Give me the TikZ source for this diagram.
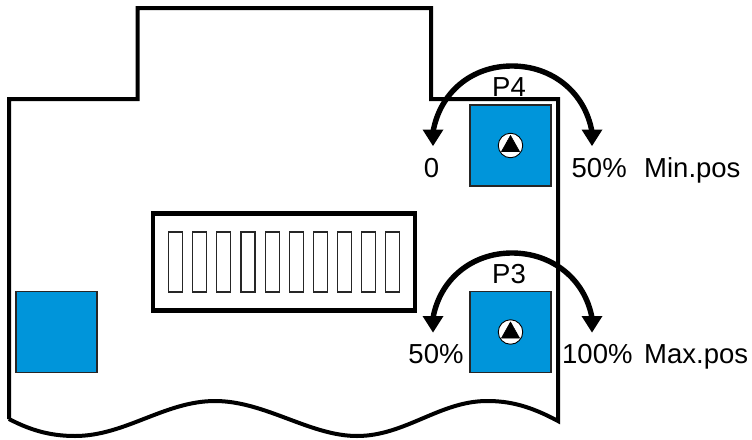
\documentclass[tikz,border=0pt]{standalone}
\usepackage{fontspec}
\setmainfont{Liberation Sans}
\definecolor{potblue}{HTML}{0095DA}
\tikzset{
  outline/.style={line width=4pt,line join=miter},
  potsquare/.style={draw=black!85,line width=1.3pt,fill=potblue,minimum width=81pt,minimum height=81pt,inner sep=0pt,outer sep=0pt},
  slotbox/.style={draw=black!85,line width=1.1pt,fill=white,minimum width=14pt,minimum height=60pt,inner sep=0pt},
  dipbox/.style={draw=black,line width=4.4pt,fill=white,minimum width=262pt,minimum height=97pt,inner sep=0pt},
  label/.style={font=\fontsize{27.5}{27.5}\selectfont,inner sep=0pt,anchor=base},
  labelw/.style={label,anchor=base west},
  swing/.style={line width=5.4pt},
  knob/.style={circle,draw=black,line width=0.9pt,fill=white,minimum size=24.5pt,inner sep=0pt},
  pointer/.style={fill=black,draw=black,line width=0.6pt,line join=round}
}
\begin{document}
\begin{tikzpicture}[x=1pt,y=-1pt]
\useasboundingbox (0,0) rectangle (752,439);
\draw[outline] (9,419) -- (9,99) -- (137.5,99) -- (137.5,8) -- (431,8) -- (431,99) -- (558,99) -- (558,421)
  .. controls (530,406) and (510,401) .. (487,401)
  .. controls (440,401) and (405,436) .. (357,436)
  .. controls (310,436) and (265,401) .. (215,401)
  .. controls (165,401) and (125,436) .. (75,436)
  .. controls (50,436) and (30,430) .. (9,419);

\node[dipbox] (dip) at (284,262) {};
\foreach \i in {0,...,9}
  \node[slotbox] (slot\i) at ({175.5+24.15*\i},262) {};

\node[potsquare] (left) at (56.5,332) {};
\node[potsquare] (pfour) at (510.5,145.5) {};
\node[potsquare] (pthree) at (510.5,332) {};

% P4
\node[knob] (kfour) at (pfour.center) {};
\draw[pointer] (510.5,135.5) -- (519.5,151.5) -- (501.5,151.5) -- cycle;
\coordinate (afour) at (433,146);
\coordinate (bfour) at (592,146);
\draw[swing] (433,132) .. controls (440,92) and (472,66) .. (512,66) .. controls (552,66) and (585,92) .. (592,132);
\fill (afour) -- (422.5,129.5) -- (443.5,129.5) -- cycle;
\fill (bfour) -- (581.5,129.5) -- (602.5,129.5) -- cycle;

% P3
\node[knob] (kthree) at (pthree.center) {};
\draw[pointer] (510.5,322) -- (519.5,338) -- (501.5,338) -- cycle;
\coordinate (athree) at (433,332.5);
\coordinate (bthree) at (592,332.5);
\draw[swing] (433,318) .. controls (440,279) and (472,253) .. (512,253) .. controls (552,253) and (585,279) .. (592,318);
\fill (athree) -- (422.5,316) -- (443.5,316) -- cycle;
\fill (bthree) -- (581.5,316) -- (602.5,316) -- cycle;

\node[label] (lp4) at (509,96) {P4};
\node[label] (lp3) at (509,283.5) {P3};
\node[label] (lzero) at (431.5,177) {0};
\node[labelw] (lfifty) at (571.5,177) {50\%};
\node[labelw] (lmin) at (644,177) {Min.pos};
\node[label] (lfiftyb) at (436,363) {50\%};
\node[labelw] (lhund) at (562,363) {100\%};
\node[labelw] (lmax) at (644,363) {Max.pos};
\end{tikzpicture}
\end{document}
